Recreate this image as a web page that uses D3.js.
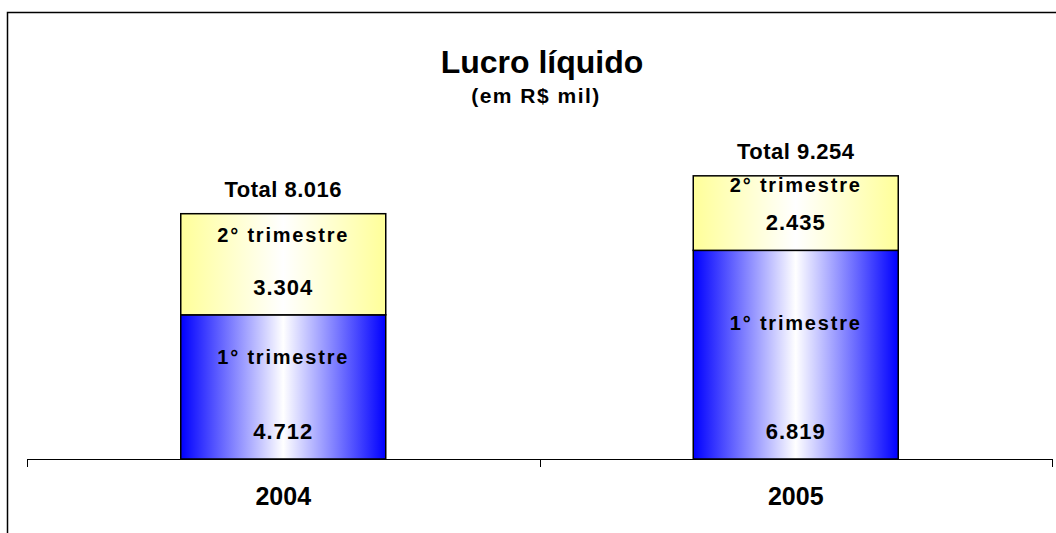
<!DOCTYPE html>
<html>
<head>
<meta charset="utf-8">
<script src="https://cdn.jsdelivr.net/npm/d3@7"></script>
<style>
body { margin: 0; background: #fff; }
#chart { width: 1056px; height: 533px; }
text { font-family: "Liberation Sans", Arial, sans-serif; font-weight: bold; fill: #000; }
</style>
</head>
<body>
<div id="chart"></div>
<script>
var years = ['2004', '2005'],
    seriesNames = ['1\u00b0 trimestre', '2\u00b0 trimestre'],
    q1 = [4712, 6819],
    q2 = [3304, 2435],
    totals = [8016, 9254],
    yTicks = [0, 10000];

var fmt = function(v) { return d3.format(',')(v).replace(/,/g, '.'); };

window.addEventListener('load', function() {
    var width = 1056, height = 533,
        svg = d3.select('#chart').append('svg')
            .attr('width', width).attr('height', height),
        x = d3.scaleBand().domain(years).range([27, 1052]).padding(0),
        y = d3.scaleLinear().domain([yTicks[0], yTicks[1]]).range([459, 153]),
        barW = x.bandwidth() * 0.4,
        defs = svg.append('defs');

    // horizontal gradients, edges coloured, centre white
    function grad(id, c) {
        var g = defs.append('linearGradient').attr('id', id)
            .attr('x1', '0%').attr('x2', '100%').attr('y1', '0%').attr('y2', '0%');
        g.append('stop').attr('offset', '0%').attr('stop-color', c);
        g.append('stop').attr('offset', '50%').attr('stop-color', '#ffffff');
        g.append('stop').attr('offset', '100%').attr('stop-color', c);
    }
    grad('gBlue', '#0000ff');
    grad('gYellow', '#ffff99');

    // chart frame
    svg.append('path')
        .attr('d', 'M7.5,' + height + 'V12.5H' + width)
        .attr('fill', 'none').attr('stroke', '#000').attr('stroke-width', 1.5);

    svg.append('text').attr('x', 542).attr('y', 73)
        .attr('text-anchor', 'middle').style('font-size', '32px')
        .text('Lucro l\u00edquido');
    svg.append('text').attr('x', 536).attr('y', 103)
        .attr('text-anchor', 'middle').style('font-size', '21px')
        .style('letter-spacing', '1.5px')
        .text('(em R$ mil)');

    var stack = d3.stack().keys([0, 1]).value(function(d, k) { return d[k]; }),
        rows = years.map(function(yr, i) { return [q1[i], q2[i]]; }),
        layers = stack(rows),
        fills = ['url(#gBlue)', 'url(#gYellow)'];

    layers.forEach(function(layer, li) {
        var g = svg.append('g');
        g.selectAll('rect').data(layer).enter().append('rect')
            .attr('x', function(d, i) { return x(years[i]) + (x.bandwidth() - barW) / 2; })
            .attr('width', barW)
            .attr('y', function(d) { return y(d[1]); })
            .attr('height', function(d) { return y(d[0]) - y(d[1]); })
            .attr('fill', fills[li])
            .attr('stroke', '#000').attr('stroke-width', 1.5);

        g.selectAll('text.val').data(layer).enter().append('text')
            .attr('class', 'val')
            .attr('x', function(d, i) { return x(years[i]) + x.bandwidth() / 2; })
            .attr('y', function(d) { return y(d[0]) - 20; })
            .attr('text-anchor', 'middle').style('font-size', '22px')
            .style('letter-spacing', '1px')
            .text(function(d) { return fmt(d[1] - d[0]); });

        g.selectAll('text.name').data(layer).enter().append('text')
            .attr('class', 'name')
            .attr('x', function(d, i) { return x(years[i]) + x.bandwidth() / 2; })
            .attr('y', function(d) { return y(d[0]) - 20 - 0.52 * (y(d[0]) - y(d[1])); })
            .attr('text-anchor', 'middle').style('font-size', '20px')
            .style('letter-spacing', '1.8px')
            .text(seriesNames[li]);
    });

    svg.selectAll('text.total').data(totals).enter().append('text')
        .attr('class', 'total')
        .attr('x', function(d, i) { return x(years[i]) + x.bandwidth() / 2; })
        .attr('y', function(d) { return y(d) - 17; })
        .attr('text-anchor', 'middle').style('font-size', '22px')
        .style('letter-spacing', '0.5px')
        .text(function(d) { return 'Total ' + fmt(d); });

    // category axis, ticks between categories
    var ax = svg.append('g');
    ax.append('line').attr('x1', 27).attr('x2', 1052).attr('y1', 459.5).attr('y2', 459.5)
        .attr('stroke', '#000');
    ax.selectAll('line.tick').data([27, x(years[1]), 1052]).enter().append('line')
        .attr('class', 'tick')
        .attr('x1', function(d) { return Math.round(d) + 0.5; })
        .attr('x2', function(d) { return Math.round(d) + 0.5; })
        .attr('y1', 459).attr('y2', 467).attr('stroke', '#000');
    ax.selectAll('text').data(years).enter().append('text')
        .attr('x', function(d) { return x(d) + x.bandwidth() / 2; })
        .attr('y', 505)
        .attr('text-anchor', 'middle').style('font-size', '25px')
        .text(function(d) { return d; });
});
</script>
</body>
</html>
